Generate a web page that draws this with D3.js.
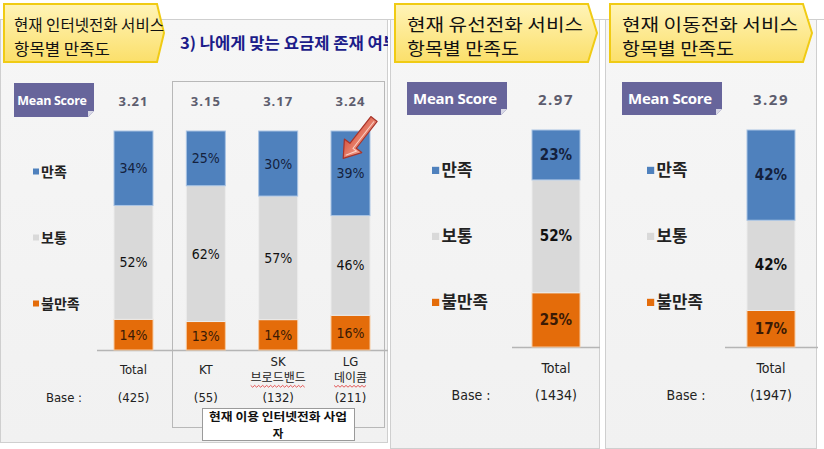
<!DOCTYPE html>
<html>
<head>
<meta charset="utf-8">
<script src="https://cdn.jsdelivr.net/npm/d3@7"></script>
<style>
  html, body { margin: 0; padding: 0; background: #fff; }
  svg { display: block; }
</style>
</head>
<body>
<div id="chart"></div>
<script>
// ---- data ----
const panelTitles = [
  ["현재 인터넷전화 서비스", "항목별 만족도"],
  ["현재 유선전화 서비스", "항목별 만족도"],
  ["현재 이동전화 서비스", "항목별 만족도"]
];
const subtitle = "3) 나에게 맞는 요금제 존재 여부";
const groupNote = ["현재 이용 인터넷전화 사업", "자"];
const legendLabels = ["만족", "보통", "불만족"];
const barPanel = [0, 0, 0, 0, 1, 2];
const barNames = [["Total"], ["KT"], ["SK", "브로드밴드"], ["LG", "데이콤"], ["Total"], ["Total"]];
const satisfied = [34, 25, 30, 39, 23, 42];
const neutral = [52, 62, 57, 46, 52, 42];
const dissatisfied = [14, 13, 14, 16, 25, 17];
const meanScores = ["3.21", "3.15", "3.17", "3.24", "2.97", "3.29"];
const bases = ["(425)", "(55)", "(132)", "(211)", "(1434)", "(1947)"];

const width = 824, height = 449;
const colors = { sat: "#4f81bd", neu: "#d9d9d9", dis: "#e46c0a" };
const narrow = "'Liberation Sans Narrow','DejaVu Sans Condensed',Arial,sans-serif";
const kr = "'Noto Sans CJK KR','Noto Sans',sans-serif";

// per panel layout
const panels = [
  { x0: 0, x1: 388, y1: 443, title: [4, 157, 164], scale: 1, barW: 39,
    xr: [133.5, 350.5], yr: [350, 131], base: [97, 388], mean: [14, 83, 80, 34], legX: 33, baseX: 64 },
  { x0: 390, x1: 600, y1: 449, title: [395, 588, 597], scale: 1.2, barW: 48,
    xr: [556, 556], yr: [347, 130], base: [512, 600], mean: [407, 82, 100, 33], legX: 432, baseX: 471 },
  { x0: 605, x1: 817, y1: 449, title: [610, 803, 812], scale: 1.2, barW: 48,
    xr: [771, 771], yr: [347, 130], base: [725, 818], mean: [622, 82, 100, 33], legX: 647, baseX: 686 }
];

const rows = satisfied.map((d, i) => ({
  i, panel: barPanel[i], name: barNames[i],
  dis: dissatisfied[i], neu: neutral[i], sat: satisfied[i],
  mean: meanScores[i], base: bases[i]
}));
const keys = ["dis", "neu", "sat"];
const series = d3.stack().keys(keys).offset(d3.stackOffsetExpand)(rows);

const svg = d3.select("#chart").append("svg")
  .attr("width", width).attr("height", height)
  .attr("viewBox", [0, 0, width, height]);

const defs = svg.append("defs");
const tg = defs.append("linearGradient").attr("id", "titleGrad").attr("x1", 0).attr("y1", 0).attr("x2", 0).attr("y2", 1);
tg.append("stop").attr("offset", "0%").attr("stop-color", "#fff4b8");
tg.append("stop").attr("offset", "100%").attr("stop-color", "#fbdf6a");
const bg = defs.append("linearGradient").attr("id", "panelGrad").attr("x1", 0).attr("y1", 0).attr("x2", 0).attr("y2", 1);
bg.append("stop").attr("offset", "0%").attr("stop-color", "#f6f6f6");
bg.append("stop").attr("offset", "100%").attr("stop-color", "#f1f1f1");
const ag = defs.append("linearGradient").attr("id", "arrowGrad").attr("x1", 0).attr("y1", 0).attr("x2", 0).attr("y2", 1);
ag.append("stop").attr("offset", "0%").attr("stop-color", "#f2a08c");
ag.append("stop").attr("offset", "100%").attr("stop-color", "#d9543e");
defs.append("clipPath").attr("id", "clip1")
  .append("rect").attr("x", 0).attr("y", 0).attr("width", 388).attr("height", 449);

// top rule
svg.append("line").attr("x1", 0).attr("x2", width).attr("y1", 19.5).attr("y2", 19.5)
  .attr("stroke", "#cfcfcf");

panels.forEach((p, pi) => {
  const g = svg.append("g");
  // background
  g.append("rect").attr("x", p.x0 + 0.5).attr("y", 19.5)
    .attr("width", p.x1 - p.x0 - 1).attr("height", p.y1 - 20)
    .attr("fill", "url(#panelGrad)").attr("stroke", "#cfcfcf");

  p.xScale = d3.scalePoint().domain(rows.filter(r => r.panel === pi).map(r => r.i)).range(p.xr);
  if (p.xr[0] === p.xr[1]) p.xScale = i => p.xr[0];
  p.yScale = d3.scaleLinear().domain([0, 1]).range(p.yr);
});

// group box for providers (panel 1)
svg.append("rect").attr("x", 172.5).attr("y", 81.5).attr("width", 212).attr("height", 346)
  .attr("fill", "none").attr("stroke", "#b8b8b8");

// subtitle of panel 1, cut at the panel edge like the original
svg.append("text").attr("x", 180).attr("y", 49).attr("clip-path", "url(#clip1)")
  .attr("font-family", kr).attr("font-weight", "bold").attr("font-size", 16)
  .attr("textLength", 218).attr("lengthAdjust", "spacingAndGlyphs")
  .attr("fill", "#1c1c8a").text(subtitle);

panels.forEach((p, pi) => {
  const g = svg.append("g");
  const s = p.scale;
  const [tx0, tx1, tip] = p.title;
  // title tag
  g.append("path")
    .attr("d", `M${tx0},4 L${tx1},4 L${tip},33 L${tx1},62 L${tx0},62 Z`)
    .attr("fill", "url(#titleGrad)").attr("stroke", "#f0cb14").attr("stroke-width", 2);
  panelTitles[pi].forEach((line, li) => {
    g.append("text").attr("font-family", kr).attr("fill", "#111")
      .attr("font-size", pi === 0 ? 16 : 17)
      .attr("x", tx0 + (pi === 0 ? 10 : 12)).attr("y", li === 0 ? 31 : 55)
      .attr("textLength", li === 0 ? (pi === 0 ? 150 : 176) : (pi === 0 ? 96 : 112))
      .attr("lengthAdjust", "spacingAndGlyphs").text(line);
  });

  // mean score tag
  const [mx, my, mw, mh] = p.mean;
  g.append("path")
    .attr("d", `M${mx},${my} L${mx + mw},${my} L${mx + mw},${my + mh - 6} L${mx + mw - 6},${my + mh} L${mx},${my + mh} Z`)
    .attr("fill", "#67659b");
  g.append("path")
    .attr("d", `M${mx + mw},${my + mh - 6} L${mx + mw - 6},${my + mh - 6} L${mx + mw - 6},${my + mh} Z`)
    .attr("fill", "#d8d8e6");
  g.append("text").attr("x", mx + mw / 2 - 2).attr("y", my + mh / 2 + 4.5 * s)
    .attr("text-anchor", "middle").attr("fill", "#fff").attr("font-weight", "bold")
    .attr("font-family", "'Open Sans',sans-serif").attr("font-size", 12.5 * s)
    .attr("letter-spacing", -0.3).text("Mean Score");

  // legend
  const legY = [175, 241, 307].map(v => pi === 0 ? v : v - 1);
  legendLabels.forEach((lab, li) => {
    const key = ["sat", "neu", "dis"][li];
    g.append("rect").attr("x", p.legX).attr("y", legY[li] - 3.5 * s - 3)
      .attr("width", 6 * s).attr("height", 6 * s).attr("fill", colors[key]);
    g.append("text").attr("x", p.legX + 8 * s).attr("y", legY[li] + 2)
      .attr("font-family", kr).attr("font-weight", "bold").attr("font-size", 14 * s)
      .attr("fill", "#222").text(lab);
  });

  // baseline
  g.append("line").attr("x1", p.base[0]).attr("x2", p.base[1])
    .attr("y1", p.yr[0] + 0.5).attr("y2", p.yr[0] + 0.5)
    .attr("stroke", "#b5b5b5").attr("stroke-width", 1.5);

  g.append("text").attr("x", p.baseX).attr("y", pi === 0 ? 402 : 400)
    .attr("text-anchor", "middle").attr("font-family", narrow)
    .attr("font-size", 13 * (pi === 0 ? 1 : 1.08)).attr("fill", "#222").text("Base :");
});

// bars
series.forEach(ser => {
  const key = ser.key;
  svg.append("g").selectAll("rect").data(ser).join("rect")
    .attr("x", d => panels[d.data.panel].xScale(d.data.i) - panels[d.data.panel].barW / 2)
    .attr("y", d => panels[d.data.panel].yScale(d[1]))
    .attr("width", d => panels[d.data.panel].barW)
    .attr("height", d => panels[d.data.panel].yScale(d[0]) - panels[d.data.panel].yScale(d[1]))
    .attr("fill", colors[key])
    .attr("stroke", key === "dis" ? "#f6c9a0" : key === "sat" ? "#a9c4e4" : "#ececec")
    .attr("stroke-width", 1);
  svg.append("g").selectAll("text").data(ser).join("text")
    .attr("x", d => panels[d.data.panel].xScale(d.data.i))
    .attr("y", d => (panels[d.data.panel].yScale(d[0]) + panels[d.data.panel].yScale(d[1])) / 2 + 5)
    .attr("text-anchor", "middle")
    .attr("font-family", narrow)
    .attr("font-size", d => d.data.panel === 0 ? 14 : 15)
    .attr("font-weight", d => d.data.panel === 0 ? "normal" : "bold")
    .attr("fill", key === "dis" ? "#3a1a05" : key === "sat" ? "#14213d" : "#111")
    .text(d => d.data[key] + "%");
});

// mean scores, names, bases
const labels = svg.append("g");
rows.forEach(r => {
  const p = panels[r.panel];
  const x = p.xScale(r.i);
  const big = r.panel > 0;
  labels.append("text").attr("x", x).attr("y", big ? 105 : 106)
    .attr("text-anchor", "middle").attr("font-family", "'Open Sans',sans-serif")
    .attr("font-weight", "bold").attr("font-size", big ? 15 : 13)
    .attr("letter-spacing", big ? 1.5 : 1).attr("fill", "#5d5d6e").text(r.mean);
  const nt = labels.append("text").attr("text-anchor", "middle")
    .attr("font-family", narrow).attr("font-size", big ? 14 : 13).attr("fill", "#222");
  if (r.name.length === 1) {
    nt.append("tspan").attr("x", x).attr("y", big ? 373 : 374).text(r.name[0]);
  } else {
    nt.append("tspan").attr("x", x).attr("y", 366).text(r.name[0]);
    nt.append("tspan").attr("x", x).attr("y", 382).attr("font-family", kr).attr("font-size", 12).text(r.name[1]);
    // spell-check squiggle
    const w = r.name[1].length * 11;
    const pts = d3.range(0, w + 1, 2).map((v, k) => [x - w / 2 + v, 386 + (k % 2 ? 1.2 : -0.6)]);
    labels.append("path").attr("d", d3.line()(pts)).attr("fill", "none")
      .attr("stroke", "#e03030").attr("stroke-width", 0.8);
  }
  labels.append("text").attr("x", x).attr("y", big ? 400 : 402)
    .attr("text-anchor", "middle").attr("font-family", narrow)
    .attr("font-size", big ? 14 : 13).attr("fill", "#222").text(r.base);
});

// note box under provider group
svg.append("rect").attr("x", 202.5).attr("y", 408.5).attr("width", 152).attr("height", 32)
  .attr("fill", "#fff").attr("stroke", "#9a9a9a");
groupNote.forEach((line, li) => {
  const t = svg.append("text").attr("text-anchor", "middle").attr("font-family", kr)
    .attr("font-weight", "bold").attr("font-size", 11.5).attr("fill", "#111")
    .attr("x", 278).attr("y", li === 0 ? 420.5 : 438).text(line);
  if (li === 0) t.attr("textLength", 138).attr("lengthAdjust", "spacingAndGlyphs");
});

// highlight arrow on LG bar
const arrow = svg.append("g").attr("transform", "translate(374,119) rotate(128)");
arrow.append("path")
  .attr("d", "M0,-4 L34,-4 L34,-11 L50,0 L34,11 L34,4 L0,4 Z")
  .attr("fill", "url(#arrowGrad)").attr("stroke", "#a8342a").attr("stroke-width", 1.2)
  .attr("stroke-linejoin", "round");
arrow.append("path")
  .attr("d", "M2,-1.5 L36,-1.5 L36,-6 L46,0")
  .attr("fill", "none").attr("stroke", "#fbd3c8").attr("stroke-width", 1);
</script>
</body>
</html>
